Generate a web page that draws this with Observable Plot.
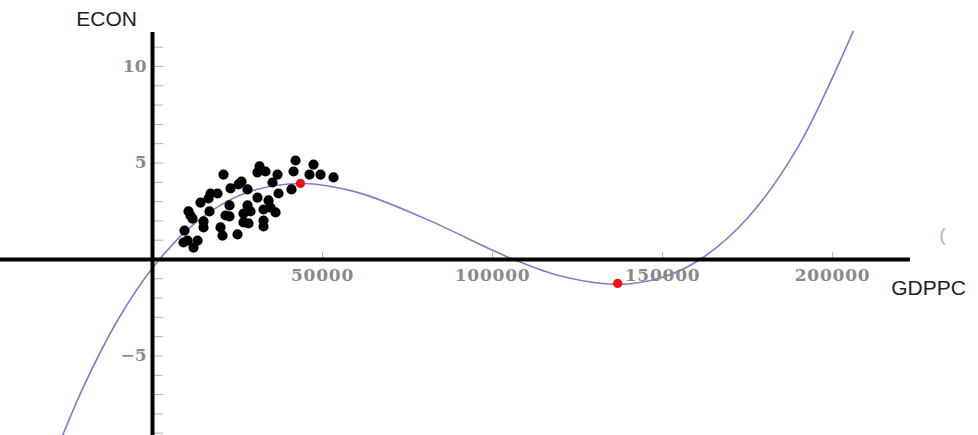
<!DOCTYPE html>
<html>
<head>
<meta charset="utf-8">
<script src="https://cdn.jsdelivr.net/npm/d3@7"></script>
<script src="https://cdn.jsdelivr.net/npm/@observablehq/plot@0.6"></script>
<style>
  html, body { margin: 0; padding: 0; background: #fff; }
  svg { display: block; }
  .ticklab text { letter-spacing: 0.8px; }
</style>
</head>
<body>
<div id="chart"></div>
<script>
// ---- data ----
const xTickValues = [50000, 100000, 150000, 200000];
const xTickLabels = ["50000", "100000", "150000", "200000"];
const yTickValues = [-5, 5, 10];
const yTickLabels = ["\u22125", "5", "10"];
const yMinorTicks = [-9, -8, -7, -6, -5, -4, -3, -2, -1, 1, 2, 3, 4, 5, 6, 7, 8, 9, 10, 11];

// scatter observations (GDPPC, ECON)
const gdppc = [42060, 47350, 31470, 30880, 33230, 20880, 36760, 41470, 46170, 49410,
  53230, 26180, 35290, 22940, 27940, 40880, 17060, 19120, 37060, 16470,
  30880, 14120, 34120, 22650, 27940, 28820, 32650, 36180, 10590, 11180,
  16760, 21470, 22650, 26760, 11760, 15000, 26760, 28230, 32650, 32650,
  15000, 20000, 9410, 20590, 25000, 10290, 9120, 13240, 12060, 25290, 34710];
const econ = [5.13, 4.92, 4.82, 4.51, 4.56, 4.40, 4.40, 4.56, 4.40, 4.40,
  4.25, 4.04, 3.99, 3.68, 3.63, 3.63, 3.42, 3.42, 3.42, 3.16,
  3.21, 2.95, 3.06, 2.80, 2.80, 2.49, 2.59, 2.44, 2.49, 2.28,
  2.49, 2.28, 2.23, 2.38, 2.12, 1.97, 1.92, 1.87, 2.02, 1.71,
  1.66, 1.66, 1.50, 1.24, 1.30, 0.98, 0.88, 0.98, 0.62, 3.89, 2.69];

// fitted curve, points
const curveX = [-27000, -20000, -10000, 0, 10000, 20000, 30000, 43800, 60000, 80000,
  100000, 106200, 120000, 136500, 150000, 161000, 175000, 190000, 206000];
const curveY = [-9.36, -6.48, -3.07, -0.44, 1.50, 2.82, 3.60, 3.94, 3.49, 2.13,
  0.48, 0.0, -0.86, -1.29, -0.92, 0.0, 2.15, 5.89, 11.81];

// turning points (red)
const turnX = [43500, 136800];
const turnY = [3.94, -1.24];

// ---- build tables ----
const points = gdppc.map((x, i) => ({x, y: econ[i]}));
const curve = curveX.map((x, i) => ({x, y: curveY[i]}));
const turns = turnX.map((x, i) => ({x, y: turnY[i]}));
const xTicks = xTickValues.map((v, i) => ({v, label: xTickLabels[i]}));
const yTicks = yTickValues.map((v, i) => ({v, label: yTickLabels[i]}));

const X0 = -44700, X1 = 242900, Y0 = -9.12, Y1 = 13.42;

const chart = Plot.plot({
  width: 978,
  height: 435,
  margin: 0,
  x: {domain: [X0, X1], axis: null},
  y: {domain: [Y0, Y1], axis: null},
  style: {background: "#fff", overflow: "visible"},
  marks: [
    Plot.ruleY(yMinorTicks, {x1: 0, x2: 3300, stroke: "#b4b4b4", strokeWidth: 1}),
    Plot.ruleX(xTickValues, {y1: 0, y2: 0.36, stroke: "#b4b4b4", strokeWidth: 1}),
    Plot.line(curve, {x: "x", y: "y", stroke: "#7e7ec6", strokeWidth: 1.6, curve: "catmull-rom", clip: true}),
    Plot.ruleY([0], {x1: X0, x2: 222900, stroke: "#000", strokeWidth: 4}),
    Plot.ruleX([0], {y1: Y0, y2: 11.76, stroke: "#000", strokeWidth: 4}),
    Plot.dot(points, {x: "x", y: "y", r: 5.1, fill: "#000", stroke: "none"}),
    Plot.dot(turns, {x: "x", y: "y", r: 4.6, fill: "#f01010", stroke: "none"}),
    Plot.text(xTicks, {x: "v", y: 0, text: "label", dy: 16, fill: "#8a8a8a", className: "ticklab",
      fontFamily: "DejaVu Serif", fontSize: 17, fontWeight: "bold", textAnchor: "middle"}),
    Plot.text(yTicks, {x: 0, y: "v", text: "label", dx: -6, fill: "#8a8a8a",
      fontFamily: "DejaVu Serif", fontSize: 17, fontWeight: "bold", textAnchor: "end"}),
    Plot.text(["ECON"], {x: -13500, y: 12.44, text: d => d, fill: "#222",
      fontFamily: "Liberation Sans", fontSize: 21, textAnchor: "middle"}),
    Plot.text(["GDPPC"], {x: 228200, y: -1.5, text: d => d, fill: "#222",
      fontFamily: "Liberation Sans", fontSize: 21, textAnchor: "middle"}),
    Plot.text(["("], {x: 232300, y: 1.24, text: d => d, fill: "#b0b0b0",
      fontFamily: "Liberation Sans", fontSize: 18, textAnchor: "middle"})
  ]
});

document.getElementById("chart").appendChild(chart);
</script>
</body>
</html>
